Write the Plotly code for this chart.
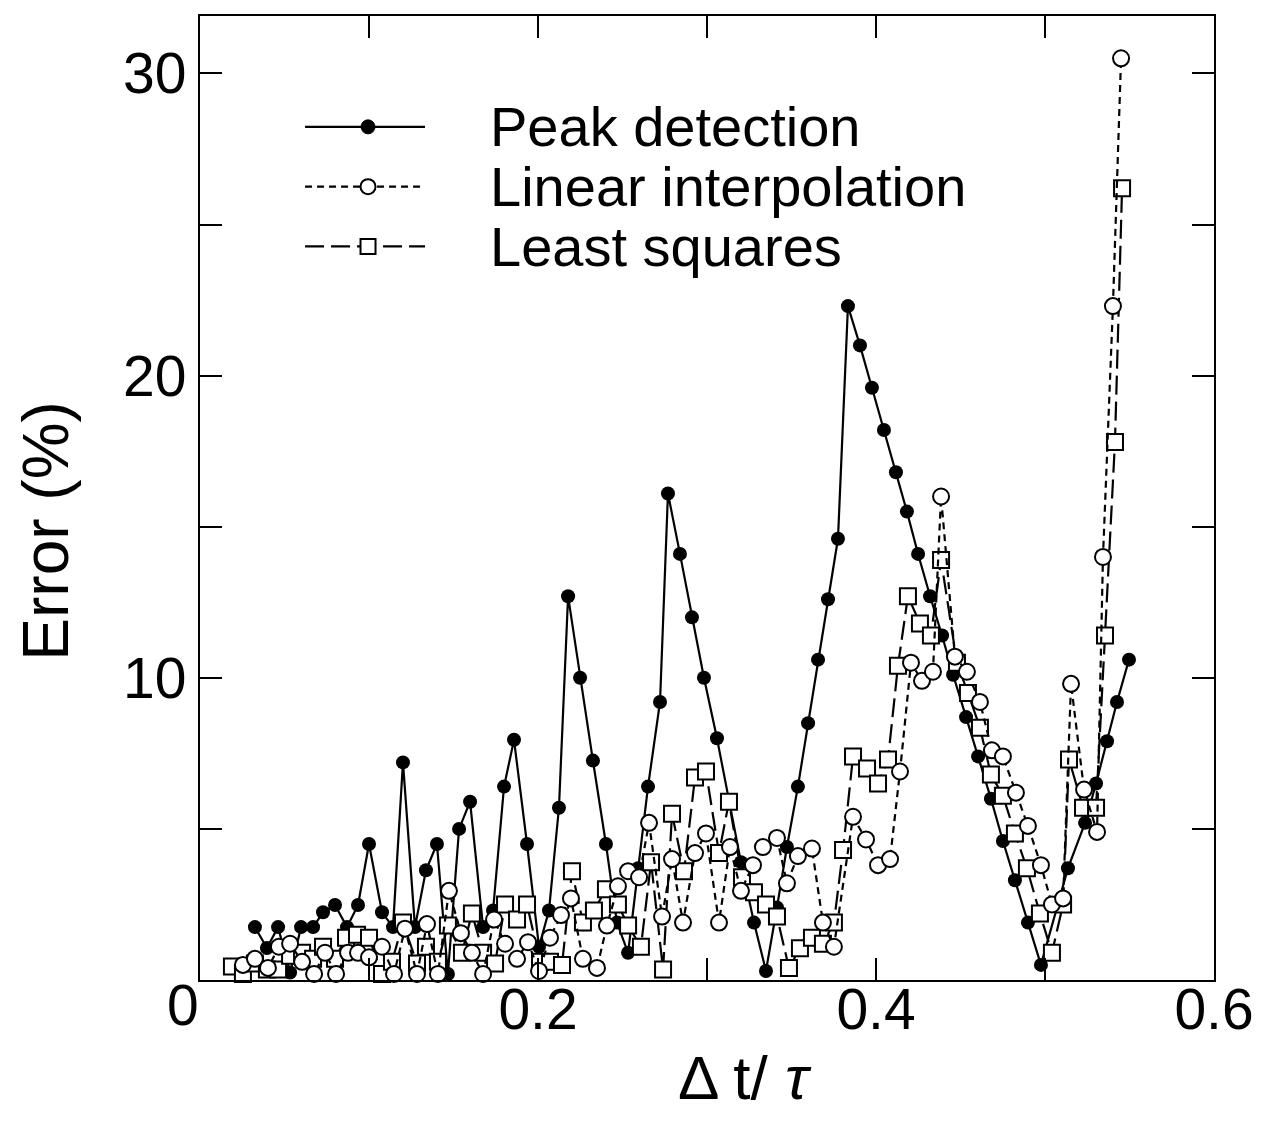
import plotly.graph_objects as go

# ---------------- data ----------------
peak_x = [0.0325, 0.0396, 0.0462, 0.0533, 0.0598, 0.0669, 0.0728, 0.0799, 0.0870, 0.0935,
          0.1000, 0.1077, 0.1142, 0.1201, 0.1272, 0.1337, 0.1402, 0.1467, 0.1533, 0.1598,
          0.1675, 0.1734, 0.1799, 0.1858, 0.1935, 0.2006, 0.2065, 0.2124, 0.2178, 0.2249,
          0.2325, 0.2402, 0.2467, 0.2533, 0.2592, 0.2651, 0.2722, 0.2769, 0.2840, 0.2911,
          0.2982, 0.3059, 0.3130, 0.3201, 0.3278, 0.3349, 0.3414, 0.3473, 0.3538, 0.3598,
          0.3657, 0.3716, 0.3775, 0.3834, 0.3905, 0.3976, 0.4047, 0.4118, 0.4183, 0.4249,
          0.4320, 0.4391, 0.4456, 0.4533, 0.4604, 0.4680, 0.4751, 0.4822, 0.4899, 0.4976,
          0.5136, 0.5237, 0.5302, 0.5367, 0.5426, 0.5497]
peak_y = [1.75, 1.06, 1.75, 0.25, 1.75, 1.75, 2.24, 2.48, 1.75, 2.48,
          4.5, 2.24, 1.75, 7.2, 1.75, 3.63, 4.5, 0.2, 5.0, 5.9,
          1.75, 2.3, 6.4, 7.95, 4.5, 1.1, 2.3, 5.7, 12.7, 10.0,
          7.26, 4.5, 1.9, 0.9, 3.7, 6.4, 9.2, 16.1, 14.1, 12.0,
          10.0, 8.0, 5.9, 3.9, 1.9, 0.3, 2.4, 4.4, 6.4, 8.5,
          10.6, 12.6, 14.6, 22.3, 21.0, 19.6, 18.2, 16.8, 15.5, 14.1,
          12.7, 11.4, 10.1, 8.7, 7.4, 6.0, 4.6, 3.3, 1.9, 0.5,
          3.7, 5.2, 6.5, 7.9, 9.2, 10.6]

lin_x = [0.0254, 0.0325, 0.0402, 0.0467, 0.0533, 0.0604, 0.0675, 0.0740, 0.0805, 0.0876,
         0.0935, 0.1000, 0.1077, 0.1148, 0.1213, 0.1284, 0.1343, 0.1408, 0.1473, 0.1544,
         0.1609, 0.1675, 0.1740, 0.1805, 0.1876, 0.1941, 0.2006, 0.2071, 0.2136, 0.2195,
         0.2266, 0.2349, 0.2408, 0.2473, 0.2533, 0.2598, 0.2657, 0.2734, 0.2793, 0.2858,
         0.2929, 0.2994, 0.3071, 0.3136, 0.3201, 0.3272, 0.3331, 0.3414, 0.3473, 0.3538,
         0.3621, 0.3686, 0.3751, 0.3864, 0.3941, 0.4012, 0.4083, 0.4142, 0.4207, 0.4272,
         0.4337, 0.4385, 0.4467, 0.4538, 0.4615, 0.4686, 0.4751, 0.4828, 0.4899, 0.4976,
         0.5041, 0.5107, 0.5154, 0.5231, 0.5308, 0.5343, 0.5402, 0.5450]
lin_y = [0.5, 0.7, 0.4, 1.1, 1.2, 0.6, 0.2, 0.9, 0.2, 0.9,
         0.9, 0.75, 1.1, 0.2, 1.7, 0.2, 1.85, 0.2, 2.95, 1.55,
         0.9, 0.2, 2.0, 1.2, 0.7, 1.25, 0.3, 1.4, 2.15, 2.7,
         0.7, 0.4, 1.8, 3.1, 3.6, 3.4, 5.2, 2.1, 4.0, 1.9,
         4.2, 4.85, 1.9, 4.4, 2.95, 3.8, 4.4, 4.7, 3.2, 4.1,
         4.35, 1.9, 1.1, 5.4, 4.65, 3.8, 4.0, 6.9, 10.5, 9.9,
         10.2, 16.0, 10.7, 10.2, 9.2, 7.6, 7.4, 6.2, 5.1, 3.8,
         2.5, 2.7, 9.8, 6.3, 4.9, 14.0, 22.3, 30.5]

lsq_x = [0.0189, 0.0254, 0.0325, 0.0396, 0.0462, 0.0533, 0.0604, 0.0669, 0.0728, 0.0799,
         0.0864, 0.0929, 0.1000, 0.1077, 0.1136, 0.1201, 0.1284, 0.1337, 0.1408, 0.1467,
         0.1550, 0.1609, 0.1675, 0.1746, 0.1805, 0.1876, 0.1935, 0.2012, 0.2071, 0.2142,
         0.2201, 0.2266, 0.2331, 0.2402, 0.2473, 0.2533, 0.2609, 0.2669, 0.2740, 0.2793,
         0.2864, 0.2929, 0.2994, 0.3071, 0.3130, 0.3207, 0.3278, 0.3349, 0.3414, 0.3485,
         0.3550, 0.3621, 0.3686, 0.3751, 0.3805, 0.3864, 0.3947, 0.4012, 0.4071, 0.4130,
         0.4189, 0.4260, 0.4325, 0.4385, 0.4479, 0.4544, 0.4615, 0.4680, 0.4751, 0.4822,
         0.4893, 0.4970, 0.5041, 0.5107, 0.5142, 0.5225, 0.5302, 0.5355, 0.5414, 0.5456]
lsq_y = [0.45, 0.2, 0.55, 0.35, 0.35, 0.8, 0.9, 0.7, 1.1, 0.7,
         1.4, 1.5, 1.4, 0.2, 0.6, 1.9, 0.55, 1.1, 0.6, 1.8,
         0.9, 2.2, 0.9, 0.55, 2.5, 2.0, 2.5, 0.6, 0.6, 0.5,
         3.6, 1.9, 2.3, 3.0, 2.5, 1.8, 1.1, 3.9, 0.35, 5.5,
         3.6, 6.7, 6.9, 4.2, 5.9, 3.4, 2.9, 2.5, 2.1, 0.4,
         1.05, 1.4, 1.2, 1.9, 4.3, 7.4, 7.0, 6.5, 7.3, 10.4,
         12.7, 11.8, 11.4, 13.9, 10.5, 9.5, 8.35, 6.8, 6.1, 4.85,
         3.7, 2.2, 0.9, 2.5, 7.3, 5.7, 5.7, 11.4, 17.8, 26.2]

series_names = ["Peak detection", "Linear interpolation", "Least squares"]
x_tick_vals = [0, 0.1, 0.2, 0.3, 0.4, 0.5, 0.6]
x_tick_text = ["", "", "0.2", "", "0.4", "", "0.6"]
y_tick_vals = [0, 5, 10, 15, 20, 25, 30]
y_tick_text = ["", "", "10", "", "20", "", "30"]

FONT = "Liberation Sans, Arial, Helvetica, sans-serif"
LIN_DASH = "7px,5px"
LSQ_DASH = "19px,7px"

fig = go.Figure()
fig.add_trace(go.Scatter(
    x=peak_x, y=peak_y, mode="lines+markers", name=series_names[0],
    line=dict(color="black", width=2.2),
    marker=dict(symbol="circle", size=14, color="black"),
    cliponaxis=False, showlegend=False))
fig.add_trace(go.Scatter(
    x=lsq_x, y=lsq_y, mode="lines+markers", name=series_names[2],
    line=dict(color="black", width=2.2, dash=LSQ_DASH),
    marker=dict(symbol="square", size=16, color="white", line=dict(color="black", width=2)),
    cliponaxis=False, showlegend=False))
fig.add_trace(go.Scatter(
    x=lin_x, y=lin_y, mode="lines+markers", name=series_names[1],
    line=dict(color="black", width=2.2, dash=LIN_DASH),
    marker=dict(symbol="circle", size=16, color="white", line=dict(color="black", width=2)),
    cliponaxis=False, showlegend=False))

# ---------------- manual legend (paper coordinates) ----------------
leg_rows = [0.885, 0.823, 0.761]
leg_x0, leg_x1, leg_xm, leg_xt = 0.1036, 0.2219, 0.1657, 0.284
dashes = ["solid", LIN_DASH, LSQ_DASH]
shapes = []
annotations = []
for i, (yy, name, dsh) in enumerate(zip(leg_rows, series_names, dashes)):
    shapes.append(dict(type="line", xref="paper", yref="paper", x0=leg_x0, x1=leg_x1, y0=yy, y1=yy,
                       line=dict(color="black", width=2.2, dash=dsh)))
    if i == 0:
        shapes.append(dict(type="circle", xref="paper", yref="paper", xsizemode="pixel", ysizemode="pixel",
                           xanchor=leg_xm, yanchor=yy, x0=-7, x1=7, y0=-7, y1=7,
                           fillcolor="black", line=dict(color="black", width=1)))
    elif i == 1:
        shapes.append(dict(type="circle", xref="paper", yref="paper", xsizemode="pixel", ysizemode="pixel",
                           xanchor=leg_xm, yanchor=yy, x0=-7.5, x1=7.5, y0=-7.5, y1=7.5,
                           fillcolor="white", line=dict(color="black", width=2)))
    else:
        shapes.append(dict(type="rect", xref="paper", yref="paper", xsizemode="pixel", ysizemode="pixel",
                           xanchor=leg_xm, yanchor=yy, x0=-7.5, x1=7.5, y0=-7.5, y1=7.5,
                           fillcolor="white", line=dict(color="black", width=2)))
    annotations.append(dict(text=name, xref="paper", yref="paper", x=leg_xt, y=yy,
                            xanchor="left", yanchor="middle", showarrow=False,
                            font=dict(family=FONT, size=56, color="black")))

# shared zero label at the corner
annotations.append(dict(text="0", xref="paper", yref="paper", x=-0.017, y=-0.026,
                        xanchor="center", yanchor="middle", showarrow=False,
                        font=dict(family=FONT, size=57, color="black")))
# axis titles
annotations.append(dict(text="Δ t/ <i>τ</i>", xref="paper", yref="paper", x=0.537, y=-0.101,
                        xanchor="center", yanchor="middle", showarrow=False,
                        font=dict(family=FONT, size=62, color="black")))
annotations.append(dict(text="Error (%)", xref="paper", yref="paper", x=-0.152, y=0.466,
                        xanchor="center", yanchor="middle", showarrow=False, textangle=-90,
                        font=dict(family=FONT, size=64, color="black")))

fig.update_layout(
    width=1276, height=1125,
    margin=dict(l=192, r=70, t=6, b=153),
    paper_bgcolor="white", plot_bgcolor="white",
    shapes=shapes, annotations=annotations,
    font=dict(family=FONT, size=57, color="black"),
)
fig.update_xaxes(range=[0, 0.6], tickvals=x_tick_vals, ticktext=x_tick_text,
                 ticks="inside", ticklen=22, tickwidth=2, tickcolor="black",
                 showline=True, linecolor="black", linewidth=2.2, mirror="ticks",
                 showgrid=False, zeroline=False, ticklabelstandoff=-22,
                 tickfont=dict(family=FONT, size=57, color="black"))
fig.update_yaxes(range=[0, 31.9], tickvals=y_tick_vals, ticktext=y_tick_text,
                 ticks="inside", ticklen=22, tickwidth=2, tickcolor="black",
                 showline=True, linecolor="black", linewidth=2.2, mirror="ticks",
                 showgrid=False, zeroline=False,
                 tickfont=dict(family=FONT, size=57, color="black"))

fig.write_html("out.html")
